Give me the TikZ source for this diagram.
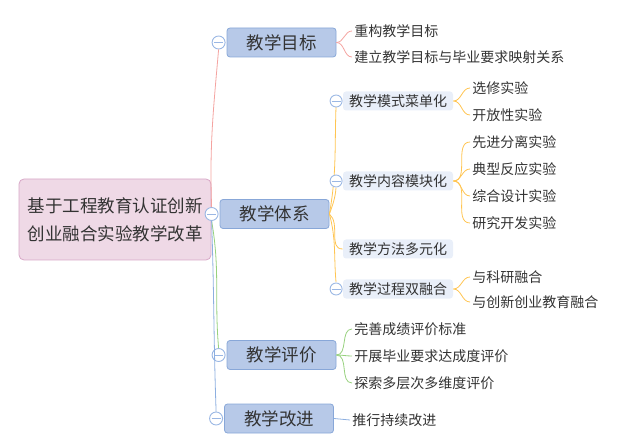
\documentclass[tikz,border=0pt]{standalone}
\usepackage{fontspec}
\setmainfont{Noto Sans CJK SC}
\usetikzlibrary{positioning}
\definecolor{txt}{HTML}{333333}
\definecolor{rootf}{HTML}{EFD9E6}
\definecolor{rootb}{HTML}{D8A8C7}
\definecolor{topf}{HTML}{B7C9E8}
\definecolor{topb}{HTML}{88A7D8}
\definecolor{subf}{HTML}{E9EFF9}
\definecolor{foldc}{HTML}{9AB7E4}
\definecolor{redc}{HTML}{F4A3A0}
\definecolor{orc}{HTML}{FFC552}
\definecolor{grc}{HTML}{97D17E}
\definecolor{blc}{HTML}{8DAFE0}

\begin{document}
\begin{tikzpicture}[x=1pt,y=-1pt,line width=0.8pt,text=txt,
  rootbox/.style={draw=rootb,fill=rootf,rounded corners=5pt,minimum width=192pt,minimum height=81pt,align=center,font=\fontsize{17.5}{28}\selectfont},
  topbox/.style={draw=topb,fill=topf,rounded corners=3pt,minimum width=109pt,minimum height=29pt,font=\fontsize{17.5}{20}\selectfont},
  subbox/.style={fill=subf,rounded corners=3pt,minimum width=110pt,minimum height=19pt,inner sep=0pt,font=\fontsize{14}{16}\selectfont},
  leaf/.style={anchor=west,inner xsep=2pt,inner ysep=1pt,font=\fontsize{14}{16}\selectfont},
  fold/.style={circle,draw=foldc,fill=white,minimum size=13pt,inner sep=0pt,line width=0.9pt,
    path picture={\draw[foldc,line width=0.9pt] ([xshift=-4.5pt]path picture bounding box.center)--([xshift=4.5pt]path picture bounding box.center);}}]
\useasboundingbox (0,0) rectangle (631,443);

\node[rootbox] (root) at (115,219.5) {基于工程教育认证创新\\创业融合实验教学改革};
\node[topbox] (goal) at (281.5,42.5) {教学目标};
\node[topbox] (sys) at (274.5,214) {教学体系};
\node[topbox] (eval) at (281.5,355) {教学评价};
\node[topbox] (imp) at (279,418.5) {教学改进};
\foreach \n in {goal,sys,eval,imp} \node[fold] (c-\n) at ([xshift=-8pt]\n.west) {};

\draw[redc] (c-sys.north) to[out=92,in=-95] (c-goal.south);
\draw[grc] (c-sys.south) to[out=-80,in=95] (c-eval.north);
\draw[blc] (c-sys.south) to[out=-88,in=92] (c-imp.north);

\foreach \t [count=\i] in {重构教学目标,建立教学目标与毕业要求映射关系} {
  \node[leaf] (goal-\i) at (352,5+26*\i) {\t}; \draw[redc] (goal.east) to[out=0,in=180] (goal-\i.west);}

\node[subbox] (mode) at (398,101) {教学模式菜单化};
\node[subbox] (content) at (398,181) {教学内容模块化};
\node[subbox] (method) at (398,249) {教学方法多元化};
\node[subbox] (proc) at (398,289) {教学过程双融合};
\draw[orc] (sys.east) to[out=80,in=-92] (336,107);
\draw[orc] (sys.east) to[out=70,in=-95] (336,188);
\draw[orc] (sys.east) to[out=-40,in=180] (method.west);
\draw[orc] (sys.east) to[out=-75,in=95] (336,282);
\foreach \n in {mode,content,proc} \node[fold,minimum size=12pt] (c-\n) at ([xshift=-6.5pt]\n.west) {};

\foreach \t [count=\i] in {选修实验,开放性实验} {
  \node[leaf] (mode-\i) at (470,61+27*\i) {\t}; \draw[orc] (mode.east) to[out=0,in=180] (mode-\i.west);}
\foreach \t [count=\i] in {先进分离实验,典型反应实验,综合设计实验,研究开发实验} {
  \node[leaf] (content-\i) at (470,115+27*\i) {\t}; \draw[orc] (content.east) to[out=0,in=180] (content-\i.west);}
\foreach \t [count=\i] in {与科研融合,与创新创业教育融合} {
  \node[leaf] (proc-\i) at (470,252+25*\i) {\t}; \draw[orc] (proc.east) to[out=0,in=180] (proc-\i.west);}

\foreach \t [count=\i] in {完善成绩评价标准,开展毕业要求达成度评价,探索多层次多维度评价} {
  \node[leaf] (eval-\i) at (352,302+27*\i) {\t}; \draw[grc] (eval.east) to[out=0,in=180] (eval-\i.west);}
\node[leaf] (imp-1) at (350,420) {推行持续改进};
\draw[blc] (imp.east) -- (imp-1.west);
\end{tikzpicture}
\end{document}
